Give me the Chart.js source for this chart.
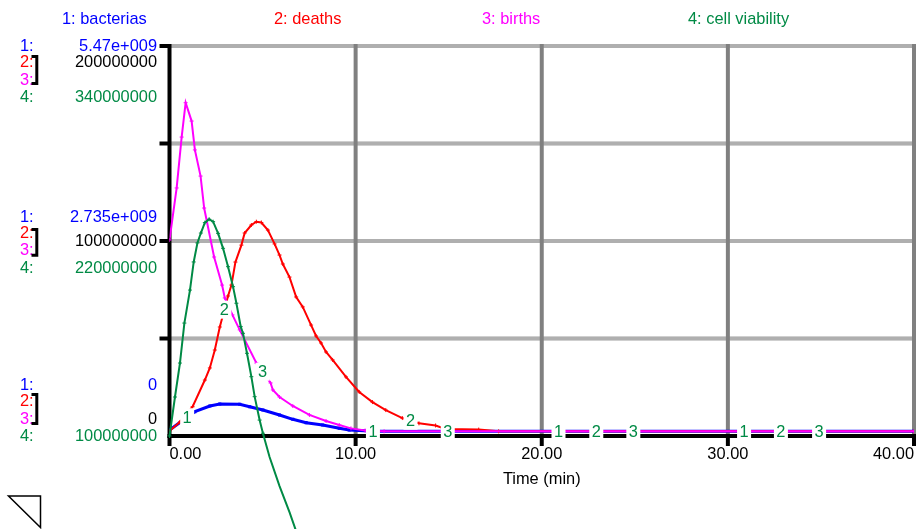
<!DOCTYPE html>
<html><head><meta charset="utf-8">
<script src="https://cdn.jsdelivr.net/npm/chart.js@4.4.1/dist/chart.umd.min.js"></script>
<style>html,body{margin:0;padding:0;background:#fff;}canvas{display:block;}</style>
</head><body>
<canvas id="c" width="923" height="529"></canvas>
<script>
// ---------- data ----------
const seriesNames = ['1: bacterias', '2: deaths', '3: births', '4: cell viability'];

const bacteriaT = [0, 1.364, 2.167, 2.702, 3.772, 4.307, 5.019, 5.912, 6.624, 7.341, 8.229, 9.122, 9.657, 10.995, 40];
const bacteriaV = [0.084e9, 0.341e9, 0.421e9, 0.449e9, 0.445e9, 0.411e9, 0.365e9, 0.295e9, 0.234e9, 0.187e9, 0.154e9, 0.108e9, 0.084e9, 0.066e9, 0.066e9];

const deathsT = [0, 0.56, 1.241, 1.899, 2.167, 2.434, 2.702, 3.146, 3.328, 3.542, 3.863, 4.039, 4.398, 4.666, 4.933, 5.286, 5.645, 5.912, 6.089, 6.447, 6.806, 7.159, 7.608, 7.876, 8.143, 8.411, 8.764, 9.481, 10.193, 10.904, 11.621, 12.509, 13.403, 14.296, 14.831, 16.613, 17.683, 40];
const deathsV = [2.6e6, 7.2e6, 15.0e6, 28.7e6, 34.9e6, 44.1e6, 55.9e6, 71.8e6, 77.4e6, 89.2e6, 97.9e6, 104.1e6, 108.2e6, 109.9e6, 109.5e6, 105.6e6, 98.5e6, 92.8e6, 88.2e6, 81.5e6, 71.3e6, 66.2e6, 56.9e6, 51.3e6, 47.7e6, 43.1e6, 39.0e6, 30.3e6, 22.6e6, 17.4e6, 13.3e6, 9.2e6, 6.5e6, 5.4e6, 3.6e6, 3.3e6, 2.4e6, 2.4e6];

const birthsT = [0, 0.385, 0.653, 0.867, 1.188, 1.364, 1.669, 1.862, 2.397, 2.825, 2.970, 3.381, 3.772, 4.666, 5.431, 5.554, 5.912, 6.624, 7.517, 8.411, 9.122, 9.749, 10.51, 11.53, 40];
const birthsV = [100.5e6, 127.2e6, 153.3e6, 170.9e6, 161.5e6, 146.7e6, 133.3e6, 116.9e6, 91.8e6, 77.4e6, 70.8e6, 62.1e6, 54.4e6, 37.4e6, 27.2e6, 23.6e6, 20.0e6, 15.4e6, 10.8e6, 7.7e6, 5.6e6, 3.9e6, 2.8e6, 2.4e6, 2.4e6];

const viabilityT = [0, 0.294, 0.562, 0.80, 1.10, 1.30, 1.50, 1.685, 1.899, 2.129, 2.343, 2.611, 2.878, 3.146, 3.414, 3.595, 3.826, 3.949, 4.163, 4.398, 4.575, 4.842, 5.019, 5.377, 5.912, 6.447, 6.82, 7.0];
const viabilityV = [100.0e6, 124.0e6, 144.9e6, 169.5e6, 189.8e6, 207.1e6, 218.8e6, 224.9e6, 231.3e6, 233.4e6, 231.9e6, 224.7e6, 215.5e6, 204.2e6, 191.9e6, 181.7e6, 167.3e6, 163.2e6, 150.9e6, 136.5e6, 124.2e6, 109.8e6, 101.7e6, 87.1e6, 69.2e6, 53.2e6, 40.9e6, 34.8e6];

const xTicks = [0, 10, 20, 30, 40];
const bacteriaTicks = [0, 2.735e9, 5.47e9];
const bacteriaTickLabels = ['0', '2.735e+009', '5.47e+009'];
const flowTicks = [0, 100000000, 200000000];
const flowTickLabels = ['0', '100000000', '200000000'];
const viabilityTicks = [100000000, 220000000, 340000000];
const viabilityTickLabels = ['100000000', '220000000', '340000000'];
const flowGrid = [50000000, 100000000, 150000000, 200000000];
const curveLabelTimes = [[0.95, 10.93, 20.9, 30.87], [2.95, 12.95, 22.93, 32.85], [5.0, 14.95, 24.92, 34.9]];

// ---------- styling ----------
const BLUE = '#0000ff', RED = '#ff0000', MAGENTA = '#ff00ff', GREEN = '#008a45';
const COLORS = [BLUE, RED, MAGENTA, GREEN];
const FAMILY = '"Liberation Sans", Arial, sans-serif';
const FSIZE = 16.4;
const FONT = FSIZE + 'px ' + FAMILY;

function pts(t, v) { return t.map((ti, i) => ({ x: ti, y: v[i] })); }

function interpY(points, px) {
  for (let i = 0; i < points.length - 1; i++) {
    const a = points[i], b = points[i + 1];
    if (px >= a.x && px <= b.x) {
      const f = (b.x === a.x) ? 0 : (px - a.x) / (b.x - a.x);
      return a.y + f * (b.y - a.y);
    }
  }
  return points[points.length - 1].y;
}

const framePlugin = {
  id: 'frame',
  beforeDatasetsDraw(chart) {
    const { ctx, chartArea: a, scales } = chart;
    const x = scales.x, yB = scales.yB;
    ctx.save();
    ctx.lineCap = 'butt';
    // dotted horizontal grid
    flowGrid.forEach(v => {
      const py = yB.getPixelForValue(v);
      ctx.setLineDash([]);
      ctx.strokeStyle = '#c4c4c4'; ctx.lineWidth = 4;
      ctx.beginPath(); ctx.moveTo(a.left, py); ctx.lineTo(a.right, py); ctx.stroke();
      ctx.setLineDash([1, 1]);
      ctx.strokeStyle = '#9a9a9a'; ctx.lineWidth = 4;
      ctx.beginPath(); ctx.moveTo(a.left, py); ctx.lineTo(a.right, py); ctx.stroke();
    });
    ctx.setLineDash([]);
    // vertical grid
    ctx.strokeStyle = '#808080'; ctx.lineWidth = 4;
    xTicks.slice(1).forEach(v => {
      const px = x.getPixelForValue(v);
      ctx.beginPath(); ctx.moveTo(px, a.top - 2); ctx.lineTo(px, a.bottom); ctx.stroke();
    });
    // axes
    ctx.strokeStyle = '#000'; ctx.lineWidth = 4;
    ctx.beginPath(); ctx.moveTo(a.left, a.top - 2); ctx.lineTo(a.left, a.bottom + 2); ctx.stroke();
    ctx.beginPath(); ctx.moveTo(a.left - 2, a.bottom); ctx.lineTo(a.right + 2, a.bottom); ctx.stroke();
    flowGrid.forEach(v => {
      const py = yB.getPixelForValue(v);
      ctx.beginPath(); ctx.moveTo(a.left - 10, py); ctx.lineTo(a.left, py); ctx.stroke();
    });
    xTicks.forEach(v => {
      const px = x.getPixelForValue(v);
      ctx.beginPath(); ctx.moveTo(px, a.bottom); ctx.lineTo(px, a.bottom + 10); ctx.stroke();
    });
    ctx.restore();
  },
  afterDatasetsDraw(chart) {
    const { ctx, scales } = chart;
    const x = scales.x;
    ctx.save();
    ctx.font = FONT; ctx.textAlign = 'center'; ctx.textBaseline = 'middle';
    curveLabelTimes.forEach((times, s) => {
      const meta = chart.getDatasetMeta(s);
      times.forEach(t => {
        const px = x.getPixelForValue(t);
        const py = interpY(meta.data, px);
        ctx.fillStyle = '#fff'; ctx.fillRect(px - 7, py - 9, 14, 18);
        ctx.fillStyle = GREEN; ctx.fillText(String(s + 1), px, py + 1);
      });
    });
    ctx.restore();
  },
  afterDraw(chart) {
    const { ctx, scales } = chart;
    const yB = scales.yB;
    ctx.save();
    ctx.font = FONT; ctx.textBaseline = 'middle';
    // top legend
    const legendX = [62, 274, 482, 688];
    seriesNames.forEach((n, i) => { ctx.fillStyle = COLORS[i]; ctx.textAlign = 'left'; ctx.fillText(n, legendX[i], 19); });
    // left axis labels (offsets relative to each tick row)
    const rows = [
      { r: [-51, -34.3, -16.7, 0], v: -16.7, br: [-43, -11] },
      { r: [-23.7, -7.7, 9, 27.3], v: 0.7, br: [-13, 15.7] },
      { r: [0.7, 16.3, 34, 51.3], v: 16.3, br: [9, 39] }
    ];
    rows.forEach((g, i) => {
      const y0 = yB.getPixelForValue(flowTicks[i]);
      ctx.textAlign = 'left';
      for (let k = 0; k < 4; k++) { ctx.fillStyle = COLORS[k]; ctx.fillText((k + 1) + ':', 20, y0 + g.r[k]); }
      ctx.textAlign = 'right';
      ctx.fillStyle = BLUE; ctx.fillText(bacteriaTickLabels[i], 157, y0 + g.r[0]);
      ctx.fillStyle = '#000'; ctx.fillText(flowTickLabels[i], 157, y0 + g.v);
      ctx.fillStyle = GREEN; ctx.fillText(viabilityTickLabels[i], 157, y0 + g.r[3]);
      // bracket
      ctx.strokeStyle = '#000'; ctx.lineWidth = 3; ctx.lineCap = 'butt'; ctx.lineJoin = 'miter';
      ctx.beginPath();
      ctx.moveTo(31.5, y0 + g.br[0] + 1.5); ctx.lineTo(36.8, y0 + g.br[0] + 1.5);
      ctx.lineTo(36.8, y0 + g.br[1] - 1.5); ctx.lineTo(31.5, y0 + g.br[1] - 1.5);
      ctx.stroke();
    });
    // corner triangle
    ctx.strokeStyle = '#000'; ctx.lineWidth = 1.5;
    ctx.beginPath(); ctx.moveTo(8.5, 496); ctx.lineTo(40.5, 496); ctx.lineTo(40.5, 527.5); ctx.closePath(); ctx.stroke();
    ctx.restore();
  }
};

new Chart(document.getElementById('c'), {
  type: 'line',
  data: {
    datasets: [
      { label: 'bacterias', data: pts(bacteriaT, bacteriaV), yAxisID: 'yA', borderColor: BLUE, backgroundColor: BLUE,
        borderWidth: 3, pointStyle: 'rect', pointRadius: 2.2, pointBorderWidth: 0, pointBackgroundColor: BLUE, order: 4, tension: 0 },
      { label: 'deaths', data: pts(deathsT, deathsV), yAxisID: 'yB', borderColor: RED, backgroundColor: RED,
        borderWidth: 2, pointStyle: 'cross', pointRadius: 2, pointBorderWidth: 1, pointBorderColor: RED, order: 3, tension: 0 },
      { label: 'births', data: pts(birthsT, birthsV), yAxisID: 'yB', borderColor: MAGENTA, backgroundColor: MAGENTA,
        borderWidth: 2, pointStyle: 'cross', pointRadius: 2, pointBorderWidth: 1, pointBorderColor: MAGENTA, order: 2, tension: 0 },
      { label: 'cell viability', data: pts(viabilityT, viabilityV), yAxisID: 'yC', borderColor: GREEN, backgroundColor: GREEN,
        borderWidth: 2, pointStyle: 'cross', pointRadius: 2, pointBorderWidth: 1, pointBorderColor: GREEN, order: 1, tension: 0, clip: false }
    ]
  },
  options: {
    responsive: false,
    animation: false,
    events: [],
    layout: { padding: { left: 169.5, right: 6, top: 46, bottom: 0 } },
    plugins: { legend: { display: false }, tooltip: { enabled: false }, title: { display: false } },
    scales: {
      x: {
        type: 'linear', position: 'bottom', min: 0, max: 40,
        grid: { display: false, drawTicks: false },
        border: { display: false },
        afterBuildTicks(s) { s.ticks = xTicks.map(v => ({ value: v })); },
        ticks: { padding: 9, align: 'inner', maxRotation: 0, autoSkip: false, color: '#000',
          font: { family: FAMILY, size: FSIZE }, callback: v => Number(v).toFixed(2) },
        title: { display: true, text: 'Time (min)', color: '#000', font: { family: FAMILY, size: FSIZE }, padding: { top: 0, bottom: 40 } },
        afterFit(s) { s.height = 93; }
      },
      yA: { display: false, min: bacteriaTicks[0], max: bacteriaTicks[2] },
      yB: { display: false, min: flowTicks[0], max: flowTicks[2] },
      yC: { display: false, min: viabilityTicks[0], max: viabilityTicks[2] }
    }
  },
  plugins: [framePlugin]
});
</script>
</body></html>
